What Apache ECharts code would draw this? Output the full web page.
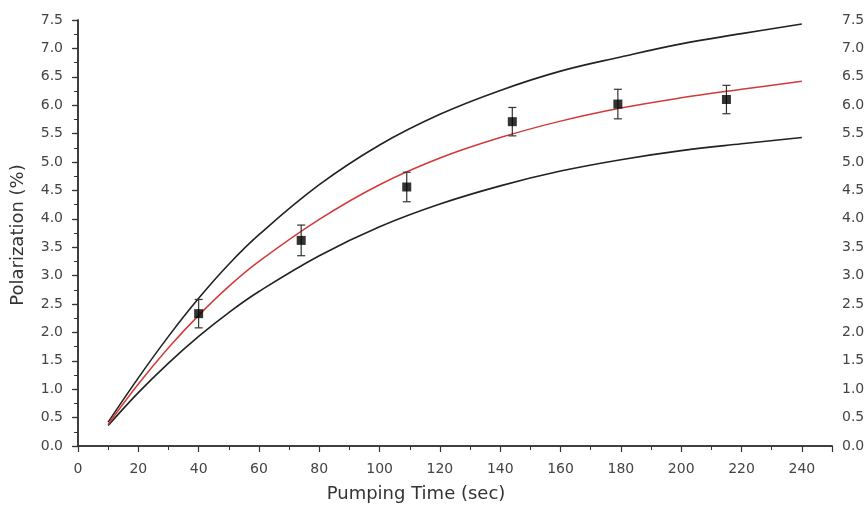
<!DOCTYPE html>
<html>
<head>
<meta charset="utf-8">
<script src="https://cdn.jsdelivr.net/npm/echarts@6/dist/echarts.min.js"></script>
<style>html,body{margin:0;padding:0;background:#fff}#c{width:865px;height:518px}</style>
</head>
<body>
<div id="c"></div>
<script>
// Measured data points (Pumping Time, Polarization) with error bars
const pumpTime = [40, 74, 109, 144, 179, 215];
const polarization = [2.33, 3.62, 4.56, 5.71, 6.02, 6.10];
const errBar = [0.25, 0.27, 0.26, 0.25, 0.26, 0.25];

// Curves
const curveTime = [10, 20, 30, 40, 50, 60, 80, 100, 120, 140, 160, 180, 200, 220, 240];
const upperCurve = [0.42, 1.20, 1.93, 2.60, 3.20, 3.72, 4.60, 5.30, 5.84, 6.26, 6.60, 6.85, 7.08, 7.26, 7.43];
const fitCurve   = [0.38, 1.09, 1.73, 2.30, 2.81, 3.25, 3.99, 4.60, 5.07, 5.43, 5.72, 5.95, 6.13, 6.28, 6.42];
const lowerCurve = [0.36, 0.94, 1.46, 1.93, 2.35, 2.72, 3.35, 3.86, 4.26, 4.58, 4.84, 5.04, 5.20, 5.32, 5.43];

const xTicks = [0, 20, 40, 60, 80, 100, 120, 140, 160, 180, 200, 220, 240];

const chart = echarts.init(document.getElementById('c'), null, {renderer: 'canvas'});
const font = '"DejaVu Sans", Arial, sans-serif';
const lab = {color: '#444', fontFamily: font, fontSize: 14};
const axLine = {show: true, lineStyle: {color: '#333', width: 1.5}};

const pts = pumpTime.map((t, i) => [t, polarization[i]]);
const errs = pumpTime.map((t, i) => [t, polarization[i] - errBar[i], polarization[i] + errBar[i]]);
const mk = arr => curveTime.map((t, i) => [t, arr[i]]);

chart.setOption({
  animation: false,
  backgroundColor: '#fff',
  grid: {left: 78, right: 33, top: 20, bottom: 72, outerBoundsMode: 'none', containLabel: false},
  xAxis: [{
    type: 'value', min: 0, max: 250, interval: 20, position: 'bottom',
    axisLine: axLine,
    axisTick: {show: true, inside: false, length: 6, lineStyle: {color: '#333', width: 1.2}},
    minorTick: {show: true, splitNumber: 2, length: 4, lineStyle: {color: '#333', width: 1}},
    axisLabel: {show: true, ...lab, margin: 16, showMaxLabel: false,
      formatter: v => xTicks.includes(v) ? String(v) : ''},
    splitLine: {show: false}
  }, {
    type: 'value', min: 0, max: 250, position: 'top',
    axisLine: axLine, axisTick: {show: false}, axisLabel: {show: false}, splitLine: {show: false}
  }],
  yAxis: [{
    type: 'value', min: 0, max: 7.5, interval: 0.5, position: 'left',
    axisLine: axLine,
    axisTick: {show: true, inside: false, length: 6, lineStyle: {color: '#333', width: 1.2}},
    minorTick: {show: true, splitNumber: 2, length: 4, lineStyle: {color: '#333', width: 1}},
    axisLabel: {show: true, ...lab, margin: 15, formatter: v => v.toFixed(1)},
    splitLine: {show: false}
  }, {
    type: 'value', min: 0, max: 7.5, interval: 0.5, position: 'right',
    axisLine: axLine,
    axisTick: {show: true, inside: true, length: 5, lineStyle: {color: '#333', width: 1.2}},
    minorTick: {show: true, splitNumber: 2, length: 3, lineStyle: {color: '#333', width: 1}},
    axisLabel: {show: true, ...lab, margin: 10, formatter: v => v.toFixed(1)},
    splitLine: {show: false}
  }],
  graphic: [{
    type: 'text', x: 416, y: 494,
    style: {text: 'Pumping Time (sec)', fill: '#333', font: '18px ' + font, align: 'center', verticalAlign: 'middle'}
  }, {
    type: 'text', x: 18, y: 235, rotation: Math.PI / 2,
    style: {text: 'Polarization (%)', fill: '#333', font: '18px ' + font, align: 'center', verticalAlign: 'middle'}
  }],
  series: [{
    type: 'line', data: mk(upperCurve), smooth: 0.4, symbol: 'none',
    lineStyle: {color: '#222', width: 1.6}
  }, {
    type: 'line', data: mk(lowerCurve), smooth: 0.4, symbol: 'none',
    lineStyle: {color: '#222', width: 1.6}
  }, {
    type: 'line', data: mk(fitCurve), smooth: 0.4, symbol: 'none',
    lineStyle: {color: '#d23a3a', width: 1.5}, z: 3
  }, {
    type: 'custom', data: errs, z: 4,
    renderItem: (params, api) => {
      const x = api.value(0);
      const lo = api.coord([x, api.value(1)]);
      const hi = api.coord([x, api.value(2)]);
      const w = 4;
      const st = {stroke: '#333', lineWidth: 1.2};
      return {type: 'group', children: [
        {type: 'line', shape: {x1: lo[0], y1: lo[1], x2: hi[0], y2: hi[1]}, style: st},
        {type: 'line', shape: {x1: lo[0] - w, y1: lo[1], x2: lo[0] + w, y2: lo[1]}, style: st},
        {type: 'line', shape: {x1: hi[0] - w, y1: hi[1], x2: hi[0] + w, y2: hi[1]}, style: st}
      ]};
    }
  }, {
    type: 'scatter', data: pts, symbol: 'rect', symbolSize: 9, z: 5,
    itemStyle: {color: '#000'}
  }]
});
</script>
</body>
</html>
